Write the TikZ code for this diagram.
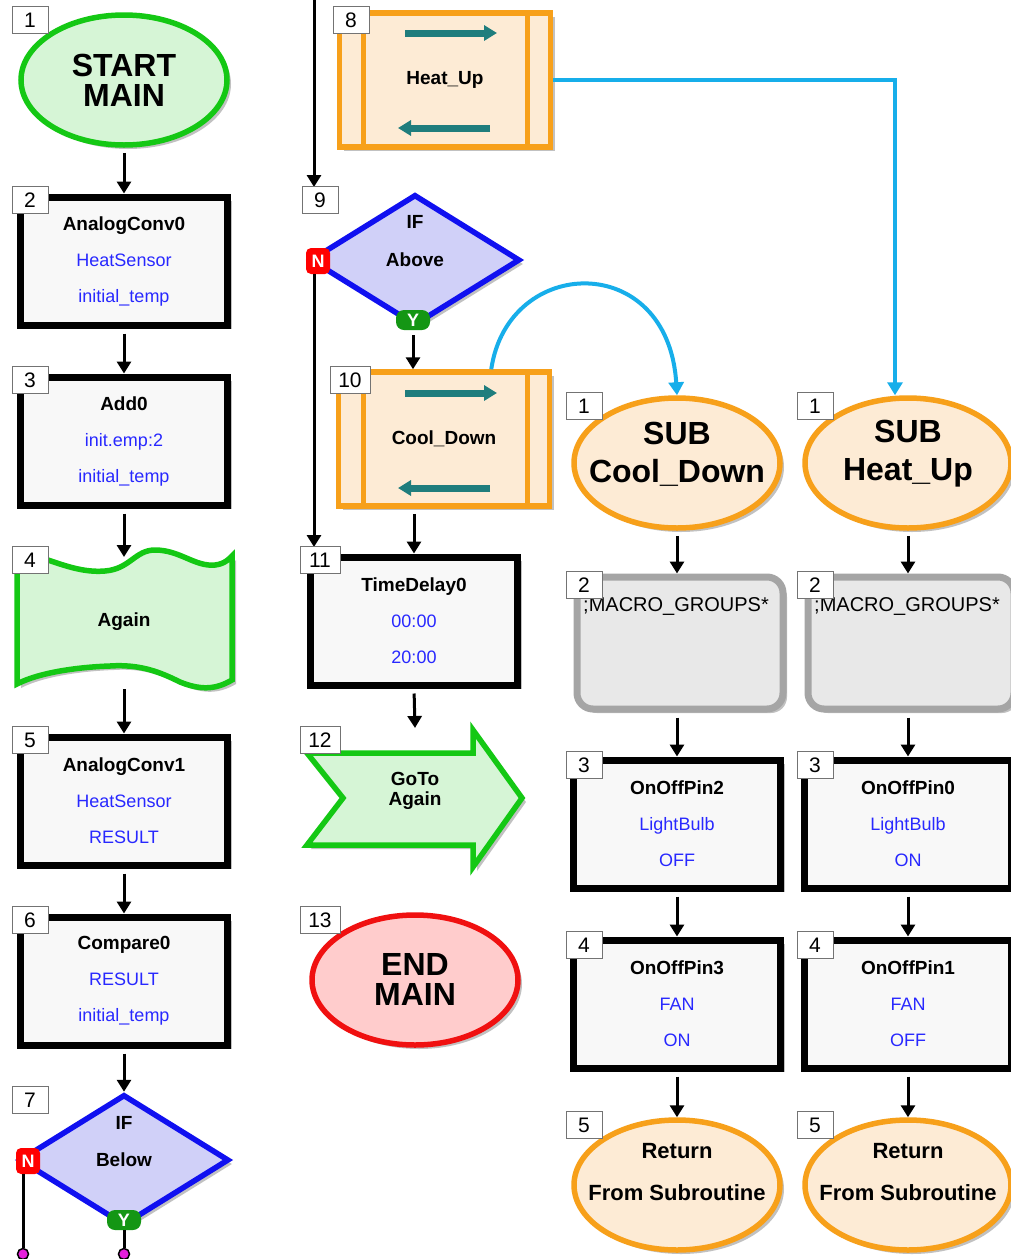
\documentclass[tikz,border=0pt]{standalone}
\usepackage{fontspec}
\setmainfont{Liberation Sans}
\usetikzlibrary{arrows.meta,shapes.geometric,shadows}
\definecolor{grn}{RGB}{20,200,20}
\definecolor{grnfill}{RGB}{214,245,214}
\definecolor{org}{RGB}{247,160,26}
\definecolor{orgfill}{RGB}{253,235,213}
\definecolor{redb}{RGB}{240,16,16}
\definecolor{redfill}{RGB}{255,204,204}
\definecolor{blub}{RGB}{16,16,240}
\definecolor{blufill}{RGB}{208,208,248}
\definecolor{macgray}{RGB}{165,165,165}
\definecolor{macfill}{RGB}{232,232,232}
\definecolor{cyanl}{RGB}{23,174,234}
\definecolor{tealc}{RGB}{31,125,125}
\definecolor{bluetxt}{RGB}{40,40,255}
\definecolor{boxfill}{RGB}{248,248,248}
\definecolor{pinkd}{RGB}{230,30,220}
\definecolor{ygreen}{RGB}{20,150,20}
\newcommand{\bltxt}[1]{\textcolor{bluetxt}{\fontsize{18}{36}\selectfont #1}}
\newcommand{\hdtxt}[1]{{\bfseries #1}}
\begin{document}
\begin{tikzpicture}[x=1pt,y=-1pt,
  shadowed/.style={drop shadow={shadow xshift=4pt,shadow yshift=-4pt,opacity=0.4,fill=black!60}},
  proc/.style={draw=black, line width=7pt, fill=boxfill, minimum width=207pt, minimum height=128pt, inner sep=0pt, shadowed, align=center, font=\fontsize{19}{36}\selectfont},
  term/.style={ellipse, line width=5.5pt, minimum width=206pt, minimum height=130pt, inner sep=0pt, shadowed},
  bigtxt/.style={align=center, font=\bfseries\fontsize{32}{30}\selectfont},
  subtxt/.style={align=center, font=\bfseries\fontsize{32}{38}\selectfont},
  rettxt/.style={align=center, font=\bfseries\fontsize{22}{42}\selectfont},
  midtxt/.style={align=center, font=\bfseries\fontsize{19}{21}\selectfont},
  macro/.style={draw=org, line width=5.5pt, fill=orgfill, minimum width=211pt, minimum height=134pt, inner sep=0pt, shadowed, font=\bfseries\fontsize{19}{22}\selectfont},
  macgrp/.style={draw=macgray, line width=7pt, fill=macfill, rounded corners=16pt, minimum width=206pt, minimum height=132pt, inner sep=0pt, shadowed},
  dec/.style={diamond, draw=blub, fill=blufill, line width=5.5pt, minimum width=210pt, minimum height=131pt, inner sep=0pt, shadowed},
  nmark/.style={fill=red, text=white, font=\bfseries\fontsize{18}{18}\selectfont, minimum width=24pt, minimum height=26pt, inner sep=0pt, rounded corners=5pt},
  ymark/.style={fill=ygreen, text=white, font=\bfseries\fontsize{18}{18}\selectfont, minimum width=34pt, minimum height=20pt, inner sep=0pt, rounded corners=8pt},
  tag/.style={draw=black!55, line width=1pt, fill=white, minimum width=36pt, minimum height=27pt, inner sep=0pt, font=\fontsize{21}{21}\selectfont},
  tagw/.style={tag, minimum width=40pt},
  flow/.style={line width=3pt, -{Triangle[width=14pt,length=12pt]}, shorten <=5pt},
  cyanarrow/.style={draw=cyanl, line width=4pt, -{Triangle[width=15pt,length=13pt]}},
  tealarrow/.style={draw=tealc, line width=7pt, -{Triangle[width=15pt,length=13pt]}},
  pinkdot/.style={circle, fill=pinkd, draw=black, line width=1.5pt, minimum size=11pt, inner sep=0pt}
]
\useasboundingbox (0,0) rectangle (1011,1259);
\fill[white] (0,0) rectangle (1011,1259);

% ---------------- column 1 ----------------
\node[term, draw=grn, fill=grnfill] (m1) at (124,80) {};
\node[bigtxt] (m1t) at (124,80) {START\\MAIN};
\node[proc] (m2) at (124,261) {\hdtxt{AnalogConv0}\\\bltxt{HeatSensor}\\\bltxt{initial\_temp}};
\node[proc] (m3) at (124,441) {\hdtxt{Add0}\\\bltxt{init.emp:2}\\\bltxt{initial\_temp}};
\draw[grn, line width=5.5pt, fill=grnfill, shadowed]
  (17,554) .. controls (40,552) and (70,574) .. (105,571)
  .. controls (130,569) and (135,550) .. (155,550)
  .. controls (180,550) and (195,567) .. (215,565)
  .. controls (225,564) and (230,558) .. (232,556)
  -- (232,680) .. controls (215,690) and (200,690) .. (180,682)
  .. controls (160,672) and (140,664) .. (110,666)
  .. controls (80,667) and (40,672) .. (17,684) -- cycle;
\coordinate (m4top) at (124,557);
\coordinate (m4bot) at (124,684);
\node[midtxt] (m4) at (124,622) {Again};
\node[proc] (m5) at (124,801) {\hdtxt{AnalogConv1}\\\bltxt{HeatSensor}\\\bltxt{RESULT}};
\node[proc] (m6) at (124,981) {\hdtxt{Compare0}\\\bltxt{RESULT}\\\bltxt{initial\_temp}};
\node[dec] (m7) at (124,1160) {};
\node[midtxt] (m7a) at (124,1123) {IF};
\node[midtxt] (m7b) at (124,1160) {Below};
\node[nmark] (m7n) at (28,1161) {N};
\node[ymark] (m7y) at (124,1220) {Y};
\node[pinkdot] (d1) at (23,1254) {};
\node[pinkdot] (d2) at (124,1254) {};
\draw[line width=3pt] (m7n.south -| d1) -- (d1.north);
\draw[line width=3pt] (m7y.south) -- (d2.north);

\draw[flow] (m1.south) -- (m2.north);
\draw[flow] (m2.south) -- (m3.north);
\draw[flow] (m3.south) -- (m4top);
\draw[flow] (m4bot) -- (m5.north);
\draw[flow] (m5.south) -- (m6.north);
\draw[flow] (m6.south) -- (m7.north);

% ---------------- column 2 ----------------
\coordinate (c2top) at (314,0);
\coordinate (c2in9) at (314,187);
\draw[flow, shorten <=0pt] (c2top) -- (c2in9);
\node[macro] (m8) at (445,80) {Heat\_Up};
\draw[org, line width=5pt] (363,12) -- (363,148);
\draw[org, line width=5pt] (527,12) -- (527,148);
\draw[tealarrow] (405,33) -- (497,33);
\draw[tealarrow] (490,128) -- (398,128);

\node[dec] (m9) at (415,260) {};
\node[midtxt] (m9a) at (415,222) {IF};
\node[midtxt] (m9b) at (415,260) {Above};
\node[nmark] (m9n) at (318,261) {N};
\node[ymark] (m9y) at (413,320) {Y};
\coordinate (c2in11) at (314,547);
\draw[flow, shorten <=0pt] (m9n.south -| c2in11) -- (c2in11);

\node[macro] (m10) at (444,439) {Cool\_Down};
\draw[org, line width=5pt] (363,372) -- (363,507);
\draw[org, line width=5pt] (527,372) -- (527,507);
\draw[tealarrow] (405,393) -- (497,393);
\draw[tealarrow] (490,488) -- (398,488);

\node[proc] (m11) at (414,621) {\hdtxt{TimeDelay0}\\\bltxt{00:00}\\\bltxt{20:00}};

\draw[grn, line width=5.5pt, fill=grnfill, shadowed]
  (307,753) -- (343,798) -- (307,845) -- (473,845) -- (473,867) -- (522,798) -- (473,730) -- (473,753) -- cycle;
\coordinate (m12top) at (415,728);
\node[align=center, font=\bfseries\fontsize{19}{20}\selectfont] (m12) at (415,791) {GoTo\\Again};

\node[term, draw=redb, fill=redfill] (m13) at (415,980) {};
\node[bigtxt] (m13t) at (415,979) {END\\MAIN};

\draw[flow] (m9y.south) -- (m9y.south |- m10.north);
\draw[flow] (m11.north |- m10.south) -- (m11.north);
\draw[flow] (m11.south) -- (m12top);

% ---------------- column 3 : SUB Cool_Down ----------------
\node[term, draw=org, fill=orgfill] (s1) at (677,463) {};
\node[subtxt] (s1t) at (677,454) {SUB\\Cool\_Down};
\node[macgrp] (s2) at (680,643) {};
\node[font=\fontsize{20}{20}\selectfont] (s2t) at (676,606) {;MACRO\_GROUPS*};
\node[proc] (s3) at (677,824) {\hdtxt{OnOffPin2}\\\bltxt{LightBulb}\\\bltxt{OFF}};
\node[proc] (s4) at (677,1004) {\hdtxt{OnOffPin3}\\\bltxt{FAN}\\\bltxt{ON}};
\node[term, draw=org, fill=orgfill] (s5) at (677,1185) {};
\node[rettxt] (s5t) at (677,1172) {Return\\From Subroutine};
\draw[flow] (s1.south) -- (s1.south |- s2.north);
\draw[flow] (s3.north |- s2.south) -- (s3.north);
\draw[flow] (s3.south) -- (s4.north);
\draw[flow] (s4.south) -- (s5.north);

% ---------------- column 4 : SUB Heat_Up ----------------
\node[term, draw=org, fill=orgfill] (t1) at (908,463) {};
\node[subtxt] (t1t) at (908,454) {SUB\\Heat\_Up};
\node[macgrp] (t2) at (911,643) {};
\node[font=\fontsize{20}{20}\selectfont] (t2t) at (907,606) {;MACRO\_GROUPS*};
\node[proc] (t3) at (908,824) {\hdtxt{OnOffPin0}\\\bltxt{LightBulb}\\\bltxt{ON}};
\node[proc] (t4) at (908,1004) {\hdtxt{OnOffPin1}\\\bltxt{FAN}\\\bltxt{OFF}};
\node[term, draw=org, fill=orgfill] (t5) at (908,1185) {};
\node[rettxt] (t5t) at (908,1172) {Return\\From Subroutine};
\draw[flow] (t1.south) -- (t1.south |- t2.north);
\draw[flow] (t3.north |- t2.south) -- (t3.north);
\draw[flow] (t3.south) -- (t4.north);
\draw[flow] (t4.south) -- (t5.north);

% ---------------- cyan call connectors ----------------
\draw[cyanarrow] (m8.east) -| ([xshift=-13pt]t1.north);
\draw[cyanarrow] ([xshift=-61pt]m10.north east) .. controls (508,255) and (668,250) .. (s1.north);

% ---------------- number tags ----------------
\node[tag] (g1) at (30,20) {1};
\node[tag] (g2) at (30,200) {2};
\node[tag] (g3) at (30,380) {3};
\node[tag] (g4) at (30,560) {4};
\node[tag] (g5) at (30,740) {5};
\node[tag] (g6) at (30,920) {6};
\node[tag] (g7) at (30,1100) {7};
\node[tag] (g8) at (351,20) {8};
\node[tag] (g9) at (320,200) {9};
\node[tagw] (g10) at (350,380) {10};
\node[tagw] (g11) at (320,560) {11};
\node[tagw] (g12) at (320,740) {12};
\node[tagw] (g13) at (320,920) {13};
\node[tag] (h1) at (584,406) {1};
\node[tag] (h2) at (584,585) {2};
\node[tag] (h3) at (584,765) {3};
\node[tag] (h4) at (584,945) {4};
\node[tag] (h5) at (584,1125) {5};
\node[tag] (k1) at (815,406) {1};
\node[tag] (k2) at (815,585) {2};
\node[tag] (k3) at (815,765) {3};
\node[tag] (k4) at (815,945) {4};
\node[tag] (k5) at (815,1125) {5};
\end{tikzpicture}
\end{document}
